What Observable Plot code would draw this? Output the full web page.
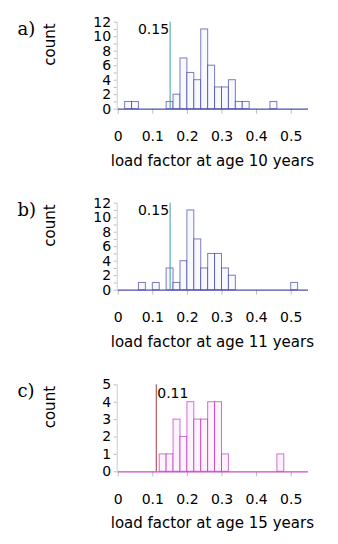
<!DOCTYPE html>
<html>
<head>
<meta charset="utf-8">
<script src="https://cdn.jsdelivr.net/npm/d3@7"></script>
<script src="https://cdn.jsdelivr.net/npm/@observablehq/plot@0.6"></script>
<style>
  body { margin: 0; background: #fff; }
  #wrap { width: 338px; }
  svg { display: block; }
</style>
</head>
<body>
<div id="wrap"></div>
<script>
// Bin start values (bin width 0.02)
const binStarts = [0.00,0.02,0.04,0.06,0.08,0.10,0.12,0.14,0.16,0.18,0.20,0.22,0.24,0.26,0.28,0.30,0.32,0.34,0.36,0.38,0.40,0.42,0.44,0.46,0.48,0.50,0.52,0.54];
const binWidth = 0.02;
const countsA = [0,1,1,0,0,0,0,1,2,7,5,4,11,6,3,3,4,1,1,0,0,0,1,0,0,0,0,0];
const countsB = [0,0,0,1,0,1,0,3,1,4,11,7,3,5,5,3,2,0,0,0,0,0,0,0,0,1,0,0];
const countsC = [0,0,0,0,0,0,1,1,3,2,4,3,3,4,4,1,0,0,0,0,0,0,0,1,0,0,0,0];
const xTicks = [0, 0.1, 0.2, 0.3, 0.4, 0.5];
const xLabels = ["load factor at age 10 years", "load factor at age 11 years", "load factor at age 15 years"];
const panelLabels = ["a)", "b)", "c)"];
const thresholds = [0.15, 0.15, 0.11];
const thresholdText = ["0.15", "0.15", "0.11"];
const yMaxes = [12, 12, 5];
const yTicksAB = [0,1,2,3,4,5,6,7,8,9,10,11,12];
const yTicksC = [0,1,2,3,4,5];

const panels = [
  {counts: countsA, yTicks: yTicksAB, labelEvery: 2, stroke: "#14148a", fill: "#f8f8ff", base: "#4e4ea8", vline: "#3e9e9e", anchorText: "end", height: 181, mt: 21.7, dyText: 7.5},
  {counts: countsB, yTicks: yTicksAB, labelEvery: 2, stroke: "#14148a", fill: "#f8f8ff", base: "#4e4ea8", vline: "#3e9e9e", anchorText: "end", height: 181, mt: 21.7, dyText: 7.5},
  {counts: countsC, yTicks: yTicksC, labelEvery: 1, stroke: "#a800a8", fill: "#fdf2fd", base: "#c84ec8", vline: "#a83838", anchorText: "start", height: 182, mt: 22.3, dyText: 9}
];

const font = "DejaVu Sans";
const wrap = document.getElementById("wrap");

panels.forEach((p, i) => {
  const bins = binStarts.map((b, j) => ({x1: b, x2: +(b + binWidth).toFixed(2), count: p.counts[j]})).filter(d => d.count > 0);
  const mb = p.height - p.mt - 87;
  const chart = Plot.plot({
    width: 338,
    height: p.height,
    marginLeft: 117.7,
    marginRight: 30,
    marginTop: p.mt,
    marginBottom: mb,
    style: {fontFamily: font, background: "#fff", overflow: "visible"},
    x: {domain: [0, 0.55], axis: null},
    y: {domain: [0, yMaxes[i]], axis: null},
    marks: [
      Plot.ruleX([0], {y1: 0, y2: yMaxes[i], stroke: "#cccccc", dx: -1}),
      Plot.axisY({
        ticks: p.yTicks,
        tickSize: 3,
        tickPadding: 3,
        dx: -1,
        stroke: "#bbbbbb",
        fill: "black",
        fontSize: 14,
        tickFormat: d => (d % p.labelEvery === 0 ? String(d) : ""),
        label: null
      }),
      Plot.axisX({
        ticks: xTicks,
        tickSize: 5,
        tickPadding: 17,
        stroke: "#bbbbbb",
        fill: "black",
        fontSize: 14,
        tickFormat: d => String(d),
        label: null
      }),
      Plot.rect(bins, {
        x1: "x1", x2: "x2", y1: 0, y2: "count",
        fill: p.fill,
        stroke: p.stroke,
        strokeOpacity: 0.55,
        strokeWidth: 1
      }),
      Plot.ruleY([0], {x1: 0, x2: 0.55, stroke: p.base, strokeWidth: 1.2}),
      Plot.ruleX([thresholds[i]], {y1: 0, y2: yMaxes[i], stroke: p.vline, strokeWidth: 1}),
      Plot.text([thresholdText[i]], {
        x: thresholds[i], y: yMaxes[i], text: d => d,
        textAnchor: p.anchorText, dx: p.anchorText === "end" ? -1 : 1, dy: p.dyText,
        lineAnchor: "middle", fontSize: 14, fill: "black"
      }),
      Plot.text(["count"], {
        frameAnchor: "left", text: d => d, rotate: -90,
        dx: -62.7, lineAnchor: "bottom", fontSize: 15, fill: "black"
      }),
      Plot.text([xLabels[i]], {
        frameAnchor: "bottom", text: d => d, dx: -1,
        dy: 46, lineAnchor: "top", fontSize: 15, fill: "black"
      }),
      Plot.text([panelLabels[i]], {
        frameAnchor: "top-left", text: d => d, textAnchor: "start",
        dx: -100.7, dy: 34 - p.mt, lineAnchor: "bottom",
        fontSize: 18, fontFamily: "DejaVu Serif", fill: "black"
      })
    ]
  });
  wrap.appendChild(chart);
});
</script>
</body>
</html>
